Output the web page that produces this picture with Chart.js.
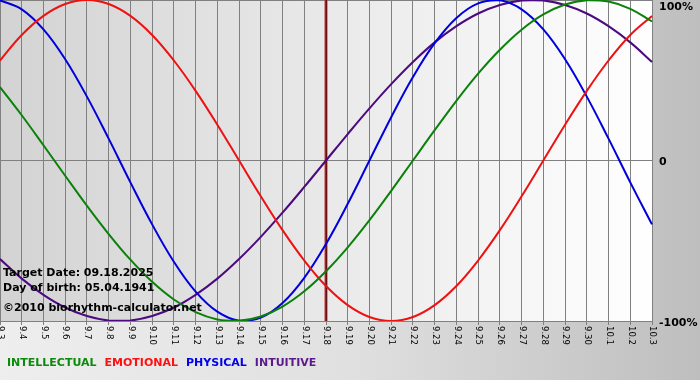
<!DOCTYPE html>
<html>
<head>
<meta charset="utf-8">
<script src="https://cdn.jsdelivr.net/npm/chart.js@4.4.1/dist/chart.umd.min.js"></script>
<style>
html,body{margin:0;padding:0;background:#fff;}
#wrap{width:700px;height:380px;position:relative;}
</style>
</head>
<body>
<div id="wrap"><canvas id="c" width="700" height="380"></canvas></div>
<script>
const labels = ['9.3','9.4','9.5','9.6','9.7','9.8','9.9','9.10','9.11','9.12','9.13','9.14','9.15','9.16','9.17','9.18','9.19','9.20','9.21','9.22','9.23','9.24','9.25','9.26','9.27','9.28','9.29','9.30','10.1','10.2','10.3'];
const intellectual = [45.8,28.2,9.5,-9.5,-28.2,-45.8,-61.8,-75.6,-86.6,-94.5,-99.0,-99.9,-97.2,-91.0,-81.5,-69.0,-54.1,-37.2,-18.9,0,18.9,37.2,54.1,69.0,81.5,91.0,97.2,99.9,99.0,94.5,86.6];
const emotional = [62.3,78.2,90.1,97.5,100,97.5,90.1,78.2,62.3,43.4,22.3,0,-22.3,-43.4,-62.3,-78.2,-90.1,-97.5,-100,-97.5,-90.1,-78.2,-62.3,-43.4,-22.3,0,22.3,43.4,62.3,78.2,90.1];
const physical = [99.8,94.2,81.7,63.1,39.8,13.6,-13.6,-39.8,-63.1,-81.7,-94.2,-99.8,-97.9,-88.8,-73.1,-52.0,-27.0,0,27.0,52.0,73.1,88.8,97.9,99.8,94.2,81.7,63.1,39.8,13.6,-13.6,-39.8];
const intuitive = [-61.4,-73.6,-83.7,-91.6,-96.9,-99.7,-99.7,-96.9,-91.6,-83.7,-73.6,-61.4,-47.6,-32.5,-16.5,0,16.5,32.5,47.6,61.4,73.6,83.7,91.6,96.9,99.7,99.7,96.9,91.6,83.7,73.6,61.4];
const seriesNames = ['INTELLECTUAL','EMOTIONAL','PHYSICAL','INTUITIVE'];
const yTickValues = [100, 0, -100];
const yTickLabels = ['100%', '0', '-100%'];
const targetLabel = '9.18';
const infoLines = ['Target Date: 09.18.2025', 'Day of birth: 05.04.1941', '\u00A92010 biorhythm-calculator.net'];

const lineColors = ['#0b800b', '#ee1111', '#0000dd', '#4b0a80'];
const legendColors = ['#0b8a0b', '#ff1010', '#0000ee', '#5a1a8c'];

const decor = {
  id: 'decor',
  beforeDraw(chart) {
    const ctx = chart.ctx, a = chart.chartArea;
    ctx.save();
    let g = ctx.createLinearGradient(0, 0, chart.width, 0);
    g.addColorStop(0, '#eeeeee');
    g.addColorStop(0.5, '#e0e0e0');
    g.addColorStop(1, '#bebebe');
    ctx.fillStyle = g;
    ctx.fillRect(0, 0, chart.width, chart.height);
    g = ctx.createLinearGradient(a.left, 0, a.right, 0);
    g.addColorStop(0, '#d3d3d3');
    g.addColorStop(1, '#ffffff');
    ctx.fillStyle = g;
    ctx.fillRect(a.left, a.top, a.right - a.left, a.bottom - a.top);
    ctx.restore();
  },
  beforeDatasetsDraw(chart) {
    const ctx = chart.ctx, a = chart.chartArea, xs = chart.scales.x;
    const idx = labels.indexOf(targetLabel);
    const x = xs.getPixelForValue(idx);
    ctx.save();
    ctx.fillStyle = '#c04040';
    ctx.fillRect(Math.round(x) - 1.5, a.top, 3, a.bottom - a.top);
    ctx.fillStyle = '#6a1010';
    ctx.fillRect(Math.round(x) - 0.5, a.top, 1.5, a.bottom - a.top);
    ctx.restore();
  },
  afterDraw(chart) {
    const ctx = chart.ctx, a = chart.chartArea, xs = chart.scales.x, ys = chart.scales.y;
    ctx.save();
    ctx.font = '8.5px "DejaVu Sans", Verdana, sans-serif';
    ctx.fillStyle = '#000';
    ctx.textAlign = 'left';
    ctx.textBaseline = 'middle';
    labels.forEach((lab, i) => {
      const x = xs.getPixelForValue(i);
      ctx.save();
      ctx.translate(x + 0.5, a.bottom + 5);
      ctx.rotate(Math.PI / 2);
      ctx.fillText(lab, 0, 0);
      ctx.restore();
    });
    ctx.font = 'bold 11px "DejaVu Sans", Verdana, sans-serif';
    ctx.textBaseline = 'middle';
    yTickValues.forEach((v, i) => {
      let y = ys.getPixelForValue(v);
      y = Math.max(y + 2, a.top + 7);
      ctx.fillText(yTickLabels[i], a.right + 7, y);
    });
    ctx.textBaseline = 'alphabetic';
    const baseY = [276, 291, 311];
    infoLines.forEach((t, i) => ctx.fillText(t, 3, baseY[i]));
    let lx = 7;
    chart.data.datasets.forEach((ds, i) => {
      ctx.fillStyle = legendColors[i];
      ctx.fillText(ds.label, lx, 366);
      lx += ctx.measureText(ds.label).width + 8;
    });
    ctx.restore();
  }
};

const mk = (label, data, i) => ({
  label, data,
  borderColor: lineColors[i],
  borderWidth: 2,
  pointRadius: 0,
  pointHoverRadius: 0,
  cubicInterpolationMode: 'default',
  tension: 0.4,
  fill: false
});

new Chart(document.getElementById('c'), {
  type: 'line',
  data: {
    labels,
    datasets: [
      mk(seriesNames[0], intellectual, 0),
      mk(seriesNames[1], emotional, 1),
      mk(seriesNames[2], physical, 2),
      mk(seriesNames[3], intuitive, 3)
    ]
  },
  options: {
    responsive: false,
    animation: false,
    events: [],
    layout: { padding: 0 },
    plugins: { legend: { display: false }, tooltip: { enabled: false } },
    scales: {
      x: {
        type: 'category',
        offset: false,
        ticks: { display: false },
        grid: { color: '#808080', lineWidth: 1, drawTicks: true, tickLength: 4 },
        border: { display: false },
        afterFit(s) { s.height = 59; }
      },
      y: {
        position: 'right',
        min: -100, max: 100,
        afterBuildTicks(s) { s.ticks = yTickValues.map(v => ({ value: v })); },
        ticks: { display: false },
        grid: { color: '#808080', lineWidth: 1, drawTicks: false },
        border: { display: false },
        afterFit(s) { s.width = 48; }
      }
    }
  },
  plugins: [decor]
});
</script>
</body>
</html>
